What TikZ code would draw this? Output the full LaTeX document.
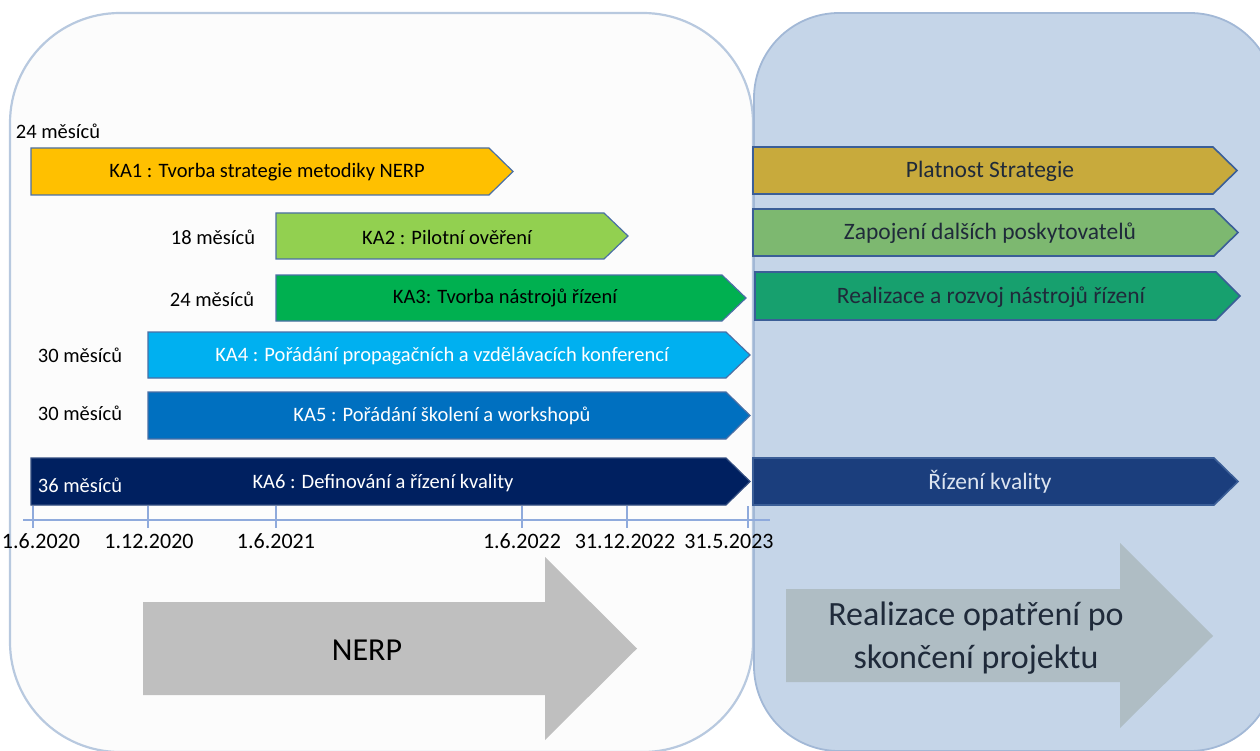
\documentclass[tikz,border=0pt]{standalone}
\usepackage{fontspec}
\setmainfont{Carlito}
\definecolor{panelLfill}{HTML}{FCFCFC}
\definecolor{panelLline}{HTML}{B8C9DF}
\definecolor{panelRfill}{HTML}{C5D5E8}
\definecolor{panelRline}{HTML}{A2B8D6}
\definecolor{barline}{HTML}{4A6FA5}
\definecolor{rbarline}{HTML}{3B5E97}
\definecolor{cKAa}{HTML}{FFC000}
\definecolor{cKAb}{HTML}{92D050}
\definecolor{cKAc}{HTML}{00B050}
\definecolor{cKAd}{HTML}{00B0F0}
\definecolor{cKAe}{HTML}{0070C0}
\definecolor{cKAf}{HTML}{002060}
\definecolor{cPlat}{HTML}{C8AA3C}
\definecolor{cZap}{HTML}{7DB870}
\definecolor{cReal}{HTML}{17A06E}
\definecolor{cRiz}{HTML}{1B3E7D}
\definecolor{darktxt}{HTML}{1F2A3A}
\definecolor{lighttxt}{HTML}{DCE4F0}
\definecolor{axisblue}{HTML}{8FAADC}
\definecolor{nerpgray}{HTML}{BFBFBF}
\definecolor{postgray}{HTML}{AFBDC4}
\newcommand\chevbar[5]{%
  \path[#5] (#1,#2) -- ({#3-24},#2) -- (#3,{(#2+#4)/2}) -- ({#3-24},#4) -- (#1,#4) -- cycle;}
\tikzset{
  panelL/.style={fill=panelLfill, draw=panelLline, line width=2.2pt, rounded corners=110pt},
  panelR/.style={fill=panelRfill, draw=panelRline, line width=1.8pt, rounded corners=85pt},
  lbar/.style={draw=barline, line width=1.2pt},
  rbar/.style={draw=rbarline, line width=1.6pt},
  bartext/.style={font=\fontsize{20.5}{24}\selectfont, inner sep=0pt},
  rbartext/.style={font=\fontsize{23.5}{27}\selectfont, inner sep=0pt, text=darktxt},
  durtext/.style={font=\fontsize{20.5}{24}\selectfont, inner sep=0pt},
  datetext/.style={font=\fontsize{22}{25}\selectfont, inner sep=0pt},
  axisline/.style={draw=axisblue, line width=1.3pt},
  bigarrowL/.style={fill=nerpgray},
  bigarrowR/.style={fill=postgray},
}
\begin{document}
\begin{tikzpicture}[x=1pt,y=-1pt]
\useasboundingbox (0,0) rectangle (1260,751);
\clip (0,0) rectangle (1260,751);
% panels
\path[panelL] (10,13) rectangle (753,752);
\path[panelR] (754,13) rectangle (1275,751);
% left bars
\chevbar{31}{148}{513}{195}{lbar, fill=cKAa}
\chevbar{276}{213}{628}{259}{lbar, fill=cKAb}
\chevbar{276}{275}{746}{321}{lbar, fill=cKAc}
\chevbar{148}{332}{750}{378}{lbar, fill=cKAd}
\chevbar{148}{392}{750}{439}{lbar, fill=cKAe}
\chevbar{31}{458}{750}{505}{lbar, draw=cKAf!80!white, fill=cKAf}
% right bars
\chevbar{753}{147}{1237}{194}{rbar, fill=cPlat}
\chevbar{753}{209}{1238}{256}{rbar, fill=cZap}
\chevbar{755}{272}{1240}{320}{rbar, fill=cReal}
\chevbar{753}{458}{1238}{505}{rbar, fill=cRiz}
% bar texts
\node[bartext] (ka1) at (267,172) {KA1 : Tvorba strategie metodiky NERP};
\node[bartext] (ka2) at (447,237) {KA2 : Pilotní ověření};
\node[bartext] (ka3) at (505,298) {KA3: Tvorba nástrojů řízení};
\node[bartext, text=white] (ka4) at (442,356) {KA4 : Pořádání propagačních a vzdělávacích konferencí};
\node[bartext, text=white] (ka5) at (442,416) {KA5 : Pořádání školení a workshopů};
\node[bartext, text=white] (ka6) at (383,483) {KA6 : Definování a řízení kvality};
\node[rbartext] (plat) at (990,171) {Platnost Strategie};
\node[rbartext] (zap) at (990,233) {Zapojení dalších poskytovatelů};
\node[rbartext] (real) at (991,297) {Realizace a rozvoj nástrojů řízení};
\node[rbartext, text=lighttxt] (riz) at (990,482) {Řízení kvality};
% durations
\node[durtext] (d1) at (58,131) {24 měsíců};
\node[durtext] (d2) at (213,237) {18 měsíců};
\node[durtext] (d3) at (212,299) {24 měsíců};
\node[durtext] (d4) at (80,355) {30 měsíců};
\node[durtext] (d5) at (80,413) {30 měsíců};
\node[durtext, text=white] (d6) at (80,485) {36 měsíců};
% axis
\coordinate (axA) at (23,520);
\coordinate (axB) at (770,520);
\draw[axisline] (axA) -- (axB);
\foreach \tx/\nm in {33/t1,148/t2,276/t3,522/t4,627/t5,748/t6}{
  \coordinate (\nm top) at (\tx,506);
  \coordinate (\nm bot) at (\tx,528);
  \draw[axisline] (\nm top) -- (\nm bot);
}
\node[datetext] (da1) at (41,541) {1.6.2020};
\node[datetext] (da2) at (149,541) {1.12.2020};
\node[datetext] (da3) at (276,541) {1.6.2021};
\node[datetext] (da4) at (522,541) {1.6.2022};
\node[datetext] (da5) at (625,541) {31.12.2022};
\node[datetext] (da6) at (729,541) {31.5.2023};
% big arrows
\path[bigarrowL] (143,602) -- (545,602) -- (545,557) -- (637,648.5) -- (545,740) -- (545,695) -- (143,695) -- cycle;
\node[font=\fontsize{32}{36}\selectfont, inner sep=0pt] (nerp) at (367,650) {NERP};
\path[bigarrowR] (786,589) -- (1120,589) -- (1120,543) -- (1213,636) -- (1120,728) -- (1120,682) -- (786,682) -- cycle;
\node[font=\fontsize{34}{43}\selectfont, inner sep=0pt, align=center, text=darktxt] (post) at (976,638) {Realizace opatření po\\skončení projektu};
\end{tikzpicture}
\end{document}
